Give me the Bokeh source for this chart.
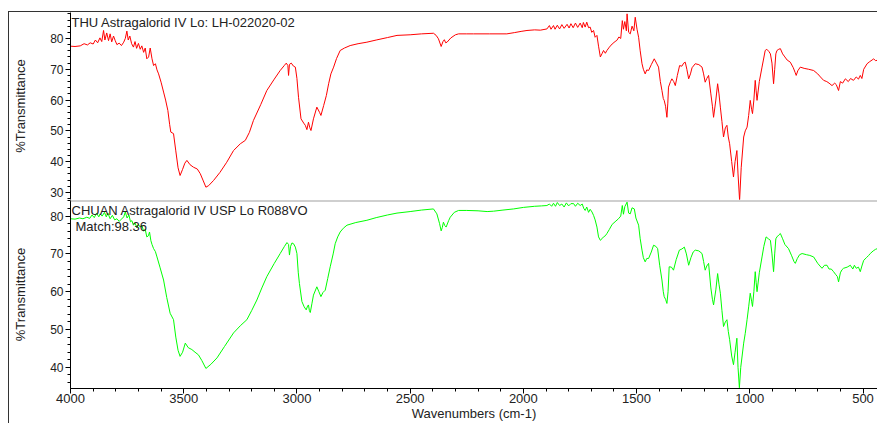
from bokeh.plotting import figure
from bokeh.layouts import column
from bokeh.models import Range1d, SingleIntervalTicker, Label, Span
from bokeh.embed import file_html
from bokeh.resources import INLINE

# ---------------- data ----------------
top_title = "THU Astragalorid IV Lo: LH-022020-02"
bottom_title = "CHUAN Astragalorid IV USP Lo R088VO"
match_text = "Match:98.36"
y_label = "%Transmittance"
x_label = "Wavenumbers (cm-1)"

top_wn = [4000, 3980, 3957, 3940, 3925, 3913, 3900, 3890, 3880, 3870, 3862, 3854, 3848, 3840, 3832, 3825,
          3818, 3810, 3803, 3795, 3785, 3775, 3765, 3758, 3751, 3745, 3738, 3730, 3722, 3715, 3708, 3700,
          3692, 3685, 3677, 3670, 3663, 3655, 3648, 3640, 3633, 3625, 3618, 3611, 3600, 3589, 3580, 3570,
          3562, 3557, 3545, 3535, 3525, 3516, 3505, 3495, 3486, 3472, 3457, 3440, 3427, 3415, 3402, 3390,
          3368, 3340, 3310, 3280, 3250, 3228, 3210, 3192, 3160, 3133, 3100, 3074, 3055, 3047, 3040, 3037,
          3033, 3025, 3015, 3007, 3000, 2993, 2982, 2970, 2963, 2956, 2949, 2943, 2938, 2927, 2912, 2900,
          2894, 2882, 2870, 2860, 2850, 2838, 2825, 2809, 2790, 2765, 2730, 2691, 2650, 2600, 2558, 2500,
          2450, 2397, 2385, 2375, 2363, 2355, 2349, 2343, 2337, 2320, 2300, 2286, 2250, 2220, 2150, 2073,
          2040, 2010, 1984, 1950, 1925, 1896, 1885, 1878, 1867, 1860, 1850, 1840, 1830, 1820, 1807, 1798,
          1790, 1780, 1770, 1760, 1749, 1740, 1735, 1727, 1720, 1712, 1705, 1698, 1690, 1683, 1675, 1668,
          1660, 1653, 1646, 1638, 1631, 1620, 1608, 1595, 1587, 1578, 1570, 1563, 1558, 1552, 1545, 1542,
          1535, 1528, 1520, 1512, 1506, 1498, 1491, 1484, 1476, 1470, 1462, 1455, 1447, 1435, 1422, 1412,
          1403, 1395, 1388, 1382, 1378, 1372, 1366, 1362, 1359, 1350, 1344, 1336, 1329, 1320, 1310, 1300,
          1292, 1285, 1278, 1270, 1262, 1255, 1241, 1225, 1211, 1204, 1197, 1190, 1182, 1172, 1165, 1160,
          1150, 1142, 1136, 1130, 1123, 1116, 1108, 1101, 1095, 1089, 1080, 1072, 1065, 1057, 1052, 1045,
          1038, 1027, 1020, 1012, 1005, 998, 992, 988, 982, 976, 972, 968, 958, 946, 940, 932,
          925, 916, 909, 902, 895, 890, 885, 880, 872, 865, 855, 845, 835, 821, 808, 800,
          795, 788, 777, 760, 740, 718, 700, 688, 674, 660, 650, 637, 625, 618, 608, 600,
          590, 578, 565, 555, 542, 530, 520, 512, 505, 497, 482, 470, 460, 453, 445, 437]
top_t = [77.5, 77.4, 77.6, 78.3, 77.9, 78.6, 78.2, 79.5, 78.6, 80.2, 79.0, 82.6, 79.5, 81.8, 79.3, 81.5,
         78.9, 80.8, 79.4, 78.0, 78.5, 77.7, 78.8, 80.0, 82.4, 79.5, 80.8, 78.3, 77.2, 79.0, 76.8, 78.4,
         76.5, 77.6, 75.5, 76.9, 73.4, 74.0, 76.9, 73.4, 71.2, 71.8, 69.8, 68.5, 65.8, 62.6, 60.0, 56.6,
         52.0, 49.6, 49.1, 43.5, 38.0, 35.5, 37.5, 39.5, 40.4, 39.0, 38.2, 37.6, 36.1, 34.0, 31.7, 32.2,
         33.9, 36.5, 39.8, 43.6, 45.8, 46.9, 49.5, 53.4, 58.5, 63.1, 66.8, 69.6, 71.3, 72.0, 71.2, 68.0,
         71.6, 72.0, 71.0, 70.7, 67.0, 60.9, 53.9, 52.5, 51.8, 50.4, 52.8, 51.0, 50.1, 53.9, 57.7, 56.0,
         55.0, 58.2, 61.5, 65.3, 68.5, 70.7, 73.5, 76.1, 76.9, 77.7, 78.3, 78.8, 79.5, 80.3, 81.0, 81.2,
         81.5, 81.7, 81.0, 79.9, 77.4, 79.0, 79.6, 78.6, 78.8, 80.2, 81.2, 81.5, 81.5, 81.5, 81.5, 81.5,
         81.9, 82.3, 82.6, 82.8, 82.7, 83.1, 84.2, 83.0, 84.2, 83.0, 84.3, 83.1, 84.5, 83.3, 84.6, 83.4,
         84.8, 83.5, 85.0, 83.6, 85.0, 83.5, 85.2, 83.7, 85.3, 83.5, 83.7, 82.0, 82.6, 80.4, 81.0, 77.5,
         74.0, 75.0, 76.1, 75.2, 76.1, 77.2, 78.2, 79.0, 79.4, 80.5, 80.0, 85.8, 83.0, 85.5, 82.5, 88.0,
         82.0, 81.5, 84.0, 82.5, 86.9, 83.0, 80.4, 76.0, 71.8, 70.0, 68.5, 69.8, 69.6, 71.5, 73.4, 72.0,
         70.7, 66.0, 63.1, 60.5, 59.9, 58.0, 54.4, 59.0, 64.2, 66.0, 66.9, 66.0, 64.7, 68.0, 71.2, 71.0,
         72.0, 72.3, 70.0, 66.9, 68.5, 70.5, 71.8, 71.5, 70.7, 68.5, 65.8, 67.0, 68.0, 62.0, 58.0, 54.4,
         60.0, 65.3, 62.0, 57.7, 53.0, 48.0, 51.0, 51.8, 48.0, 45.8, 40.0, 35.0, 40.0, 43.6, 36.0, 27.4,
         38.0, 48.0, 50.0, 51.2, 55.0, 59.9, 57.0, 55.6, 60.0, 66.4, 63.0, 59.9, 66.0, 70.7, 73.0, 76.1,
         76.5, 75.8, 75.0, 72.0, 65.3, 70.0, 75.0, 76.1, 76.5, 76.7, 75.0, 74.0, 73.0, 72.3, 70.5, 69.0,
         68.0, 69.5, 70.7, 70.3, 70.0, 69.6, 68.5, 67.5, 66.4, 66.0, 65.5, 64.7, 65.5, 65.0, 63.1, 66.0,
         65.5, 66.9, 66.0, 67.0, 66.4, 67.5, 66.8, 68.0, 67.0, 70.0, 71.8, 72.5, 73.0, 73.4, 72.8, 72.9]

bot_wn = [4000, 3980, 3960, 3945, 3928, 3915, 3905, 3895, 3885, 3875, 3869, 3860, 3850, 3842, 3835, 3825,
          3815, 3805, 3795, 3785, 3775, 3765, 3758, 3750, 3742, 3735, 3729, 3722, 3715, 3707, 3700, 3692,
          3685, 3677, 3670, 3663, 3656, 3651, 3645, 3640, 3633, 3625, 3618, 3605, 3589, 3575, 3560, 3545,
          3535, 3525, 3516, 3505, 3493, 3480, 3464, 3450, 3435, 3420, 3402, 3380, 3353, 3320, 3280, 3250,
          3221, 3200, 3177, 3155, 3133, 3100, 3074, 3055, 3044, 3037, 3033, 3028, 3022, 3015, 3007, 3000,
          2994, 2989, 2978, 2968, 2959, 2953, 2949, 2945, 2941, 2934, 2927, 2912, 2903, 2894, 2885, 2875,
          2864, 2853, 2840, 2831, 2820, 2809, 2795, 2779, 2740, 2691, 2650, 2600, 2558, 2500, 2450, 2397,
          2382, 2370, 2363, 2358, 2353, 2347, 2341, 2330, 2323, 2305, 2286, 2250, 2200, 2160, 2132, 2090,
          2043, 2000, 1950, 1920, 1896, 1885, 1875, 1867, 1858, 1850, 1840, 1830, 1820, 1810, 1800, 1790,
          1778, 1770, 1760, 1749, 1740, 1733, 1727, 1720, 1712, 1705, 1697, 1690, 1683, 1675, 1668, 1660,
          1653, 1646, 1638, 1631, 1620, 1608, 1595, 1580, 1570, 1563, 1558, 1552, 1542, 1535, 1528, 1520,
          1510, 1503, 1491, 1484, 1476, 1470, 1462, 1455, 1447, 1435, 1425, 1415, 1407, 1398, 1388, 1382,
          1378, 1372, 1366, 1361, 1356, 1346, 1337, 1325, 1311, 1300, 1289, 1280, 1270, 1260, 1250, 1241,
          1225, 1211, 1204, 1197, 1190, 1182, 1172, 1165, 1160, 1150, 1142, 1136, 1130, 1123, 1116, 1108,
          1101, 1095, 1089, 1080, 1072, 1065, 1057, 1052, 1046, 1040, 1027, 1020, 1012, 1005, 998, 992,
          988, 982, 976, 972, 968, 958, 946, 938, 928, 918, 909, 902, 895, 890, 885, 880,
          872, 865, 855, 845, 829, 815, 805, 799, 790, 780, 769, 750, 735, 718, 700, 690,
          681, 670, 659, 650, 640, 630, 620, 613, 608, 600, 593, 586, 570, 556, 545, 538,
          530, 520, 512, 505, 497, 485, 475, 468, 455, 445, 437]
bot_t = [79.3, 79.2, 79.5, 79.3, 79.7, 79.4, 80.3, 79.6, 80.8, 79.8, 80.6, 80.0, 81.0, 79.8, 80.8, 79.3,
         80.2, 79.0, 79.3, 78.6, 79.2, 79.8, 81.1, 79.5, 80.3, 78.5, 78.8, 77.6, 78.2, 76.9, 77.8, 77.1,
         77.6, 76.0, 76.5, 74.5, 74.8, 75.8, 73.5, 72.5, 71.4, 70.6, 69.2, 66.5, 63.1, 58.5, 54.3, 52.6,
         48.0, 44.5, 42.9, 44.0, 46.4, 45.2, 44.7, 44.0, 43.3, 41.8, 39.7, 40.8, 42.5, 45.5, 49.1, 51.0,
         52.6, 55.0, 57.8, 61.0, 64.0, 67.5, 70.1, 72.0, 73.0, 72.5, 69.7, 72.0, 72.9, 72.7, 71.8, 70.1,
         65.0, 62.2, 57.4, 56.0, 55.2, 56.2, 56.5, 55.0, 54.5, 56.8, 59.1, 61.3, 60.0, 58.7, 59.8, 60.4,
         63.5, 66.6, 70.0, 72.7, 74.5, 75.8, 76.8, 77.6, 78.3, 78.9, 79.6, 80.3, 80.8, 81.2, 81.6, 81.9,
         80.6, 78.0, 76.1, 77.0, 78.4, 77.5, 77.1, 78.8, 79.7, 81.0, 81.5, 81.5, 81.4, 81.2, 81.3, 81.6,
         81.9, 82.3, 82.6, 82.7, 82.8, 83.2, 82.6, 83.4, 82.6, 83.6, 82.8, 83.2, 82.4, 83.5, 82.7, 83.3,
         83.3, 82.6, 83.4, 82.8, 83.2, 82.0, 81.5, 82.4, 81.0, 81.8, 81.1, 80.2, 79.0, 77.1, 74.5, 73.6,
         74.0, 74.5, 74.8, 75.4, 76.5, 77.8, 78.5, 79.3, 80.0, 82.8, 80.5, 82.5, 83.7, 80.8, 80.6, 82.2,
         81.9, 79.5, 77.6, 74.0, 71.0, 69.0, 67.9, 68.8, 68.8, 70.5, 72.3, 72.0, 71.4, 67.0, 63.1, 60.0,
         58.7, 58.0, 56.9, 60.0, 66.6, 66.5, 65.7, 68.5, 71.0, 71.3, 71.8, 70.0, 67.0, 69.0, 70.5, 71.0,
         70.8, 70.1, 68.0, 65.7, 66.8, 67.5, 61.0, 58.0, 56.5, 60.5, 64.8, 62.0, 59.6, 55.0, 50.8, 52.0,
         52.6, 49.5, 47.3, 43.0, 40.7, 44.0, 47.7, 40.0, 34.6, 40.0, 46.4, 49.0, 52.6, 56.0, 59.6, 57.5,
         56.1, 60.0, 65.3, 62.5, 60.0, 65.0, 69.2, 72.0, 74.5, 74.0, 73.6, 70.0, 65.3, 70.0, 74.0, 74.5,
         75.0, 75.4, 74.0, 72.5, 71.4, 69.5, 68.0, 67.5, 68.8, 69.8, 70.1, 69.8, 69.6, 69.2, 67.5, 66.8,
         66.2, 67.0, 67.0, 66.0, 66.0, 65.3, 64.5, 64.0, 62.6, 65.0, 65.8, 66.2, 66.5, 67.0, 66.0, 67.0,
         66.2, 66.5, 65.3, 66.8, 68.3, 69.0, 69.6, 70.1, 70.8, 71.2, 71.4]

x_start, x_end = 4000, 436
top_y = (27.7, 88.44)
bot_y = (34.4, 84.13)

FONT = "Liberation Sans"
TXT = "#222222"


def style_axis(ax):
    ax.axis_line_color = "#000000"
    ax.major_tick_line_color = "#000000"
    ax.minor_tick_line_color = "#000000"
    ax.major_tick_in = 0
    ax.major_tick_out = 5
    ax.minor_tick_in = 0
    ax.minor_tick_out = 3
    ax.major_label_text_font = FONT
    ax.major_label_text_font_size = "12px"
    ax.major_label_text_color = TXT
    ax.axis_label_text_font = FONT
    ax.axis_label_text_font_size = "13px"
    ax.axis_label_text_font_style = "normal"
    ax.axis_label_text_color = TXT


xr = Range1d(x_start, x_end)

p1 = figure(width=868, height=188, x_range=xr, y_range=Range1d(*top_y),
            x_axis_location=None, output_backend="svg", toolbar_location=None,
            min_border_left=61, min_border_right=0, min_border_top=0, min_border_bottom=1)
p2 = figure(width=868, height=223, x_range=xr, y_range=Range1d(*bot_y),
            output_backend="svg", toolbar_location=None,
            min_border_left=61, min_border_right=0, min_border_top=0, min_border_bottom=34)

for p in (p1, p2):
    p.grid.visible = False
    p.outline_line_color = None
    p.background_fill_color = "white"
    p.border_fill_color = "white"
    ya = p.yaxis[0]
    style_axis(ya)
    ya.ticker = SingleIntervalTicker(interval=10, num_minor_ticks=5)
    ya.major_label_standoff = 2
    ya.axis_label = y_label
    ya.axis_label_standoff = 19

xa = p2.xaxis[0]
style_axis(xa)
xa.ticker = SingleIntervalTicker(interval=500, num_minor_ticks=5)
xa.major_label_text_font_size = "13px"
xa.major_label_standoff = 0
xa.axis_label = x_label
xa.axis_label_standoff = 0

p1.line(top_wn, top_t, line_color="#ff0000", line_width=1)
p2.line(bot_wn, bot_t, line_color="#00ff00", line_width=1)

# panel separator
p2.add_layout(Span(location=bot_y[1], dimension="width", line_color="#a0a0a0", line_width=2))

p1.add_layout(Label(x=62, y=2, x_units="canvas", y_units="canvas", text=top_title,
                    text_align="left", text_baseline="top",
                    text_font=FONT, text_font_size="13px", text_color=TXT))
p2.add_layout(Label(x=62, y=2.5, x_units="canvas", y_units="canvas", text=bottom_title,
                    text_align="left", text_baseline="top",
                    text_font=FONT, text_font_size="13px", text_color=TXT))
p2.add_layout(Label(x=66, y=18, x_units="canvas", y_units="canvas", text=match_text,
                    text_align="left", text_baseline="top",
                    text_font=FONT, text_font_size="13px", text_color=TXT))

layout = column(p1, p2, spacing=0,
                styles={"margin-left": "8px", "margin-top": "11px",
                        "border-left": "1px solid #333333", "border-top": "1px solid #333333"})
open("out.html", "w").write(file_html(layout, INLINE))
